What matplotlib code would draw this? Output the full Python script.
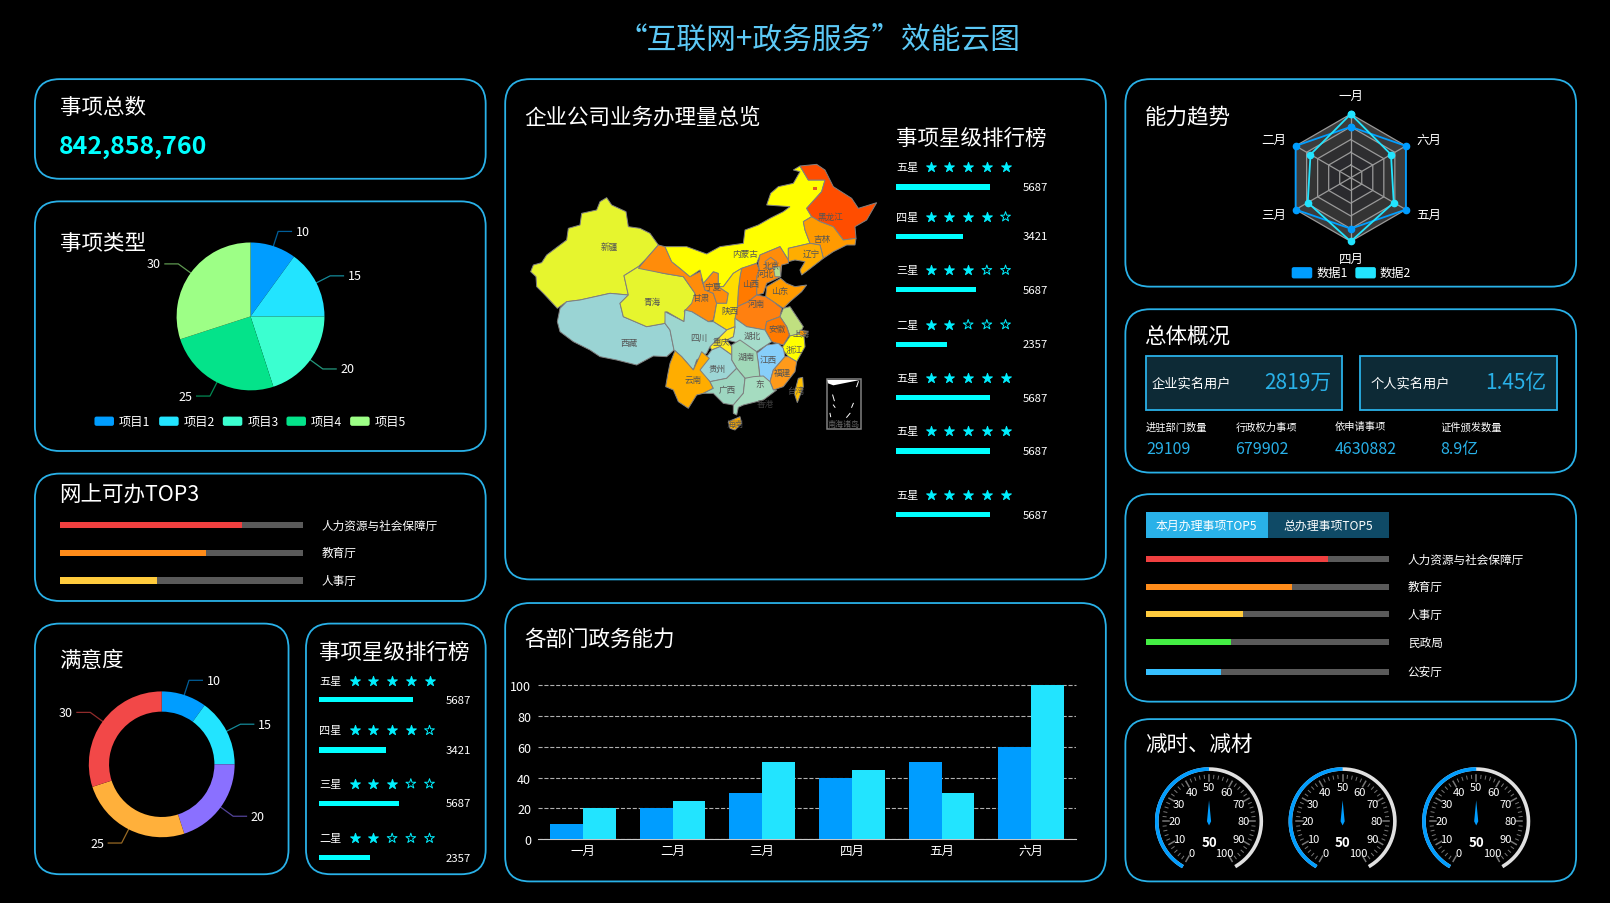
import numpy as np
import matplotlib
matplotlib.use('Agg')
import matplotlib.pyplot as plt
from matplotlib.patches import FancyBboxPatch, Rectangle, Polygon

plt.rcParams['font.family'] = ['Noto Sans CJK SC', 'DejaVu Sans']

# ---- data ----
total_count = '842,858,760'
pie_values = [10, 15, 20, 25, 30]
pie_names = ['项目1', '项目2', '项目3', '项目4', '项目5']
pie_colors = ['#009dff', '#22e4ff', '#3bffd0', '#04e38a', '#9dff86']
donut_values = [10, 15, 20, 25, 30]
donut_colors = ['#009dff', '#22e4ff', '#8a70ff', '#ffb03b', '#f24848']
top3_names = ['人力资源与社会保障厅', '教育厅', '人事厅']
top3_share = [75, 60, 40]
top3_colors = ['#f04040', '#ff8c1a', '#ffcb3d']
top5_names = ['人力资源与社会保障厅', '教育厅', '人事厅', '民政局', '公安厅']
top5_share = [75, 60, 40, 35, 31]
top5_colors = ['#f04040', '#ff8c1a', '#ffcb3d', '#44ee44', '#36c0ff']
rank_labels = ['五星', '四星', '三星', '二星', '五星', '五星', '五星']
rank_stars = [5, 4, 3, 2, 5, 5, 5]
rank_values = [5687, 3421, 5687, 2357, 5687, 5687, 5687]
rank_share = [70, 50, 60, 38, 70, 70, 70]
months = ['一月', '二月', '三月', '四月', '五月', '六月']
bar_series1 = [10, 20, 30, 40, 50, 60]
bar_series2 = [20, 25, 50, 45, 30, 100]
radar_series1 = [80, 100, 100, 80, 100, 100]
radar_series2 = [100, 73, 78, 100, 78, 73]
gauge_values = [50, 50, 50]
stat_names = ['进驻部门数量', '行政权力事项', '依申请事项', '证件颁发数量']
stat_values = ['29109', '679902', '4630882', '8.9亿']

province_names = ['新疆', '西藏', '青海', '甘肃', '宁夏', '内蒙古', '黑龙江', '吉林', '辽宁', '河北', '北京', '天津',
                  '山西', '山东', '河南', '陕西', '江苏', '上海', '安徽', '浙江', '江西', '福建', '湖北', '湖南',
                  '重庆', '四川', '贵州', '云南', '广西', '东', '海南', '台湾']
province_colors = ['#e6f52e', '#9ad4d4', '#e6f52e', '#ff8c0a', '#ff8c0a', '#ffff00', '#ff4d00', '#ff9a00', '#ffad00',
                   '#ff8c0a', '#ff8c0a', '#b5e090', '#ff7a00', '#ff9a00', '#ff8010', '#ffdd00', '#c0e080', '#ff9a00',
                   '#ff7a00', '#ffff00', '#87cefa', '#ff9a1a', '#a5dccb', '#a0d8b8', '#ffee22', '#9dd6cf', '#9dd6d6',
                   '#ffad00', '#9dd6c0', '#a5dcc0', '#ffad00', '#ffc000']
province_outlines = [
    [(92,425),(100,405),(125,398),(140,375),(200,330),(205,295),(240,285),(245,250),(290,240),(300,215),(320,203),(335,225),(378,245),(385,290),(420,295),(450,310),(475,345),(440,385),(415,410),(372,437),(385,495),(330,490),(240,510),(200,515),(172,535),(130,490),(110,470),(108,440)],
    [(172,575),(180,535),(200,515),(240,510),(330,490),(385,495),(360,520),(370,560),(440,590),(495,580),(510,600),(522,660),(500,680),(460,678),(410,705),(350,690),(300,680),(270,660),(220,635),(200,620),(180,605)],
    [(372,437),(415,410),(490,430),(550,440),(585,490),(580,530),(555,540),(552,575),(500,545),(495,580),(440,590),(370,560),(360,520),(385,495)],
    [(415,415),(440,385),(475,345),(495,350),(515,395),(540,415),(570,440),(610,420),(605,450),(615,480),(640,490),(650,520),(640,570),(625,575),(575,545),(552,545),(575,520),(585,490),(550,440),(490,430)],
    [(610,460),(640,425),(655,430),(655,470),(685,490),(680,520),(650,520),(640,490),(615,480)],
    [(495,350),(560,350),(620,372),(660,350),(730,340),(735,300),(775,285),(810,265),(850,245),(870,230),(800,225),(812,190),(835,170),(880,160),(900,125),(880,120),(900,108),(925,150),(975,150),(965,185),(920,235),(935,260),(910,275),(915,300),(930,340),(865,355),(865,390),(840,350),(780,375),(770,400),(725,415),(700,430),(670,470),(655,470),(655,430),(640,425),(610,460),(600,420),(570,440),(540,415),(515,395)],
    [(900,108),(950,103),(975,120),(1000,170),(1055,205),(1075,235),(1130,218),(1100,270),(1065,290),(1068,325),(1030,330),(1000,290),(960,275),(935,260),(920,235),(965,185),(975,150),(925,150)],
    [(910,275),(935,260),(960,275),(1000,290),(1030,330),(1068,325),(1065,345),(1040,345),(1000,365),(970,385),(960,345),(930,340),(915,300)],
    [(865,395),(865,355),(930,340),(960,345),(970,385),(925,420),(905,435),(900,420),(915,395),(885,390)],
    [(775,400),(780,375),(840,350),(865,390),(865,400),(845,405),(842,440),(800,460),(790,490),(770,495),(770,440),(778,420)],
    [(795,395),(812,382),(830,395),(822,415),(802,415)],
    [(820,412),(840,410),(842,440),(825,440)],
    [(720,440),(725,415),(770,400),(778,420),(770,440),(770,495),(745,515),(712,530),(715,480)],
    [(800,470),(842,445),(860,460),(885,470),(920,465),(905,485),(870,515),(850,535),(820,515),(797,500)],
    [(745,515),(770,495),(797,500),(820,515),(845,535),(840,560),(800,575),(795,600),(740,590),(705,565),(712,530)],
    [(655,470),(670,470),(700,430),(725,415),(720,440),(715,480),(712,530),(705,565),(705,590),(680,600),(640,575),(650,520),(680,520),(685,490)],
    [(850,535),(870,530),(890,560),(910,590),(900,610),(895,612),(870,618),(860,590),(840,560)],
    [(900,600),(925,605),(912,620),(897,615)],
    [(800,575),(840,560),(860,590),(868,615),(850,645),(815,635),(795,600)],
    [(862,630),(870,618),(895,612),(912,620),(915,650),(890,695),(865,680),(845,655)],
    [(770,670),(800,645),(835,640),(850,655),(855,680),(820,720),(810,755),(780,745),(775,700)],
    [(855,680),(865,680),(890,695),(885,725),(850,770),(820,780),(810,755),(820,720)],
    [(705,565),(740,590),(795,600),(815,635),(800,645),(770,665),(720,640),(700,635),(680,630),(700,620),(705,590)],
    [(695,645),(720,630),(770,665),(775,700),(780,745),(735,745),(710,715),(695,690)],
    [(630,650),(680,600),(705,590),(700,620),(680,630),(695,650),(695,675),(660,650),(635,660)],
    [(495,545),(552,575),(555,540),(575,545),(625,575),(640,575),(680,600),(630,650),(620,670),(590,690),(580,720),(545,680),(522,660),(510,600),(495,580)],
    [(600,720),(620,680),(635,660),(660,650),(695,675),(695,690),(710,715),(680,745),(630,755),(600,730)],
    [(497,770),(503,735),(510,700),(525,662),(545,680),(580,720),(605,665),(628,685),(600,720),(630,755),(640,775),(610,790),(590,795),(565,835),(535,815),(520,780)],
    [(630,755),(680,745),(710,715),(735,745),(730,790),(700,825),(670,820),(640,790),(610,790),(640,775)],
    [(735,745),(760,740),(790,738),(810,755),(820,780),(830,780),(790,810),(730,825),(715,832),(710,855),(700,850),(700,825),(730,790)],
    [(685,875),(720,860),(725,880),(705,900),(690,895)],
    [(895,745),(908,742),(910,770),(892,818),(883,790)],
]
province_label_pos = [(328,348),(388,637),(457,513),(605,502),(640,470),(735,370),(990,258),(967,325),(933,370),(797,432),(815,405),
                      (0,0),(752,460),(838,481),(770,520),(690,541),(0,0),(903,610),(830,595),(882,660),(806,690),(848,727),(758,615),(740,678),
                      (665,634),(598,622),(650,714),(580,747),(682,780),(778,760),(705,881),(888,783)]
island_dashes = [((998,795),(1003,812)), ((1075,755),(1070,770)), ((1000,825),(1005,832)), ((1060,820),(1055,832)),
                 ((1050,850),(1040,862)), ((990,850),(992,860))]

BLUE = '#29b1e8'
fig = plt.figure(figsize=(16.1, 9.04), dpi=100, facecolor='black')
ax = fig.add_axes([0, 0, 1, 1], facecolor='black')
ax.set_xlim(0, 1568)
ax.set_ylim(879, -1)
ax.axis('off')


def T(x, y, s, size=8, color='white', ha='left', va='center', **kw):
    return ax.text(x, y, s, fontsize=size, color=color, ha=ha, va=va, **kw)


def title(x, y, s):
    return T(x, y + 0.5, s, 15.5)


def sub_axes(x0, y0, x1, y1, **kw):
    return fig.add_axes([x0 / 1568, 1 - (y1 + 1) / 880, (x1 - x0) / 1568, (y1 - y0) / 880], **kw)


def panel(x0, y0, x1, y1, r=24):
    ax.add_patch(FancyBboxPatch((x0, y0), x1 - x0, y1 - y0, boxstyle=f'round,pad=0,rounding_size={r}',
                                fc='black', ec=BLUE, lw=1.3, zorder=1))


for p in [(34, 77, 473, 174), (34, 196, 473, 439), (34, 461, 473, 585), (34, 607, 281, 851), (298, 607, 473, 851),
          (492, 77, 1077, 564), (492, 587, 1077, 858), (1096, 77, 1535, 279), (1096, 301, 1535, 460),
          (1096, 481, 1535, 683), (1096, 700, 1535, 858)]:
    panel(*p)

T(798, 37.5, '“互联网+政务服务”效能云图', 21.4, '#5cc8f5', ha='center')
title(58, 104, '事项总数')
T(57, 142.5, total_count, 18, '#00ffff', fontweight='bold')
title(58, 236.5, '事项类型')
title(58, 481, '网上可办TOP3')
title(58, 642, '满意度')
title(311, 634, '事项星级排行榜')
title(511, 113, '企业公司业务办理量总览')
title(873, 134, '事项星级排行榜')
title(511, 621, '各部门政务能力')
title(1115, 113, '能力趋势')
title(1114.5, 327, '总体概况')
title(1115, 725, '减时、减材')


# pies
def ring_chart(values, colors, cx, cy, R, inner=None):
    pax = sub_axes(cx - R, cy - R, cx + R, cy + R)
    props = dict(width=1 - inner / R) if inner else None
    pax.pie(values, colors=colors, startangle=90, counterclock=False, radius=1, wedgeprops=props)
    pax.set_xlim(-1, 1)
    pax.set_ylim(-1, 1)
    total = sum(values)
    start = 0
    for v, c in zip(values, colors):
        a = np.deg2rad(start + 360 * v / total / 2)
        start += 360 * v / total
        s, co = np.sin(a), np.cos(a)
        x1, y1 = cx + R * s, cy - R * co
        x2, y2 = cx + (R + 15) * s, cy - (R + 15) * co
        d = 13 if s >= 0 else -13
        ax.plot([x1, x2, x2 + d], [y1, y2, y2], color=c, lw=0.9, alpha=0.6, zorder=3)
        T(x2 + d + (4 if s >= 0 else -4), y2, str(v), 9, ha='left' if s >= 0 else 'right')


ring_chart(pie_values, pie_colors, 244, 308, 72)
ring_chart(donut_values, donut_colors, 157.5, 744, 71, inner=51.3)

# pie legend
for name, c, x in zip(pie_names, pie_colors, [92, 155, 217, 279, 341]):
    ax.add_patch(FancyBboxPatch((x, 405.5), 19, 9, boxstyle='round,pad=0,rounding_size=2', fc=c, ec='none', zorder=3))
    T(x + 24, 410, name, 8.8)


# progress bars
def progress(names, shares, colors, ys, x0, w, lx):
    for n, s, c, y in zip(names, shares, colors, ys):
        ax.add_patch(Rectangle((x0, y - 3), w, 6, fc='#5a5a5a', ec='none', zorder=3))
        ax.add_patch(Rectangle((x0, y - 3), w * s / 100, 6, fc=c, ec='none', zorder=4))
        T(lx, y, n, 8.4)


progress(top3_names, top3_share, top3_colors, [511, 538, 565], 58, 237, 313)
progress(top5_names, top5_share, top5_colors, [544, 571, 598, 625, 654], 1116, 237, 1371)

ax.add_patch(Rectangle((1116, 498), 119, 26, fc='#29b1e8', ec='none', zorder=3))
ax.add_patch(Rectangle((1235, 498), 118, 26, fc='#0f4a66', ec='none', zorder=3))
T(1175, 511, '本月办理事项TOP5', 8.6, ha='center', zorder=5)
T(1294, 511, '总办理事项TOP5', 8.6, ha='center', zorder=5)


# star ranks
def rank(x0, star_x, val_x, label_ys, bar_ys, n):
    for i in range(n):
        T(x0, label_ys[i], rank_labels[i], 8)
        for k in range(5):
            filled = k < rank_stars[i]
            ax.scatter([star_x + k * 18.2], [label_ys[i]], marker='*', s=55,
                       facecolors='#00f0ff' if filled else 'none',
                       edgecolors='#00f0ff', linewidths=0.7, zorder=4)
        ax.add_patch(Rectangle((x0, bar_ys[i] - 2.5), rank_share[i] * 1.3, 5, fc='#00ffff', ec='none', zorder=4))
        T(val_x, bar_ys[i], str(rank_values[i]), 8.2, va='center')


rank(873, 906.5, 996, [163, 211, 263, 316, 368, 420, 482], [182, 230, 282, 335, 387, 439, 501], 7)
rank(311, 345.5, 434, [663, 711, 763, 816], [681, 730, 782, 835], 4)

# map
map_ax = fig.add_axes([500 / 1610, 1 - 451 / 904, 400 / 1610, 320 / 904], facecolor='none')
map_ax.set_xlim(0, 1200)
map_ax.set_ylim(960, 0)
map_ax.axis('off')
for outline, color in zip(province_outlines, province_colors):
    map_ax.add_patch(Polygon(outline, closed=True, fc=color, ec='#808080', lw=0.7))
map_ax.add_patch(Rectangle((940, 172), 12, 7, fc='#e06020', ec='none'))
for name, pos in zip(province_names, province_label_pos):
    if pos != (0, 0):
        map_ax.text(pos[0], pos[1], name, fontsize=6.2, color='#555555', ha='center', va='center')
map_ax.text(795, 820, '香港', fontsize=6.2, color='#555555', ha='center', va='center', alpha=0.7)
map_ax.add_patch(Rectangle((980, 748), 102, 149, fc='none', ec='#808080', lw=1.1))
map_ax.add_patch(Polygon([(982, 750), (1080, 750), (1040, 758), (1000, 766), (984, 760)], fc='white', ec='none'))
for d in island_dashes:
    map_ax.plot([d[0][0], d[1][0]], [d[0][1], d[1][1]], color='white', lw=0.7)
map_ax.text(1031, 881, '南海诸岛', fontsize=5.8, color='#666666', ha='center', va='center')

# grouped bars
bar_ax = sub_axes(524, 667, 1048, 817, facecolor='none')
x = np.arange(len(months))
bw = 0.367
bar_ax.set_axisbelow(True)
bar_ax.bar(x - bw / 2, bar_series1, bw, color='#009dff', zorder=3)
bar_ax.bar(x + bw / 2, bar_series2, bw, color='#22e4ff', zorder=3)
bar_ax.set_xlim(-0.5, 5.5)
bar_ax.set_ylim(0, 100)
bar_ax.set_xticks(x, months)
bar_ax.set_yticks(range(0, 101, 20))
bar_ax.tick_params(length=0, colors='white', labelsize=9, pad=5)
bar_ax.tick_params(axis='x', pad=3)
bar_ax.grid(axis='y', color='#b0b0b0', ls='--', lw=0.8)
bar_ax.yaxis.get_gridlines()[-1].set_clip_on(False)
for sp in ['top', 'left', 'right']:
    bar_ax.spines[sp].set_visible(False)
bar_ax.spines['bottom'].set_color('#c8c8c8')

# radar
radar_ax = sub_axes(1315.5 - 62, 173 - 62, 1315.5 + 62, 173 + 62, projection='polar', facecolor='none')
theta = np.deg2rad(np.arange(6) * 60.0)
th_closed = np.append(theta, theta[0])
radar_ax.set_theta_zero_location('N')
radar_ax.set_ylim(0, 100)
radar_ax.axis('off')
for level, shade in zip([100, 80, 60, 40, 20], ['#3c3c3c', '#343434', '#2e2e30', '#2a2a2e', '#262628']):
    radar_ax.fill(th_closed, [level] * 7, color=shade, zorder=1, lw=0)
    radar_ax.plot(th_closed, [level] * 7, color='#9a9a9a', lw=0.9, zorder=2)
for t in theta:
    radar_ax.plot([t, t], [0, 100], color='#9a9a9a', lw=0.9, zorder=2)
radar_ax.plot(th_closed, radar_series1 + radar_series1[:1], color='#009dff', lw=1.3, marker='o', ms=4.5,
              zorder=4, clip_on=False)
radar_ax.plot(th_closed, radar_series2 + radar_series2[:1], color='#22e4ff', lw=1.3, marker='o', ms=4.5,
              zorder=5, clip_on=False)
for m, (lx, ly, ha) in zip(months, [(1316, 93, 'center'), (1253, 136, 'right'), (1253, 209, 'right'),
                                    (1316, 252, 'center'), (1379, 209, 'left'), (1379, 136, 'left')]):
    T(lx, ly, m, 9, ha=ha)
for name, c, xx in zip(['数据1', '数据2'], ['#009dff', '#22e4ff'], [1258, 1320]):
    ax.add_patch(FancyBboxPatch((xx, 260), 20, 11, boxstyle='round,pad=0,rounding_size=2', fc=c, ec='none', zorder=3))
    T(xx + 24, 265, name, 8.8)

# overview
for x0, name, val, nx in [(1116, '企业实名用户', '2819万', 1122), (1325, '个人实名用户', '1.45亿', 1335)]:
    ax.add_patch(Rectangle((x0, 347), 191, 52, fc='#0d2a36', ec=BLUE, lw=1.3, zorder=3))
    T(nx, 373, name, 9.5, zorder=5)
    T(x0 + 181, 372, val, 15, '#29b1e8', ha='right', zorder=5)
for n, v, xx in zip(stat_names, stat_values, [1116, 1203, 1300, 1403]):
    T(xx, 415, n, 7.4)
    T(xx, 437, v, 11.5, '#29b1e8')


# gauges
def gauge(cx, cy, value, R=52.6):
    ang = lambda v: np.deg2rad(240 - 300 * np.asarray(v, dtype=float) / 100)
    v_all = np.linspace(0, 100, 200)
    v_lo = np.linspace(0, value, 100)
    ax.plot(cx + (R - 1.7) * np.cos(ang(v_all)), cy - (R - 1.7) * np.sin(ang(v_all)), color='#e0e0e0', lw=2.6,
            solid_capstyle='butt', zorder=3)
    ax.plot(cx + (R - 1.7) * np.cos(ang(v_lo)), cy - (R - 1.7) * np.sin(ang(v_lo)), color='#009dff', lw=2.6,
            solid_capstyle='butt', zorder=4)
    for t in np.arange(0, 101, 2):
        major = t % 10 == 0
        a = ang(t)
        r1, r2 = (39, 45) if major else (42, 45)
        ax.plot([cx + r1 * np.cos(a), cx + r2 * np.cos(a)], [cy - r1 * np.sin(a), cy - r2 * np.sin(a)],
                color='#777777', lw=1.1 if major else 0.7, zorder=3)
    for t in range(0, 101, 10):
        a = ang(t)
        dx = -1.5 if t == 100 else 0
        dy = 1.5 if t in (0, 100) else 0
        T(cx + 33.5 * np.cos(a) + dx, cy - 33.5 * np.sin(a) + dy, str(t), 8, ha='center', zorder=5)
    a = ang(value)
    ux, uy = np.cos(a), -np.sin(a)
    px, py = -uy, ux
    ax.add_patch(Polygon([(cx + 20.5 * ux, cy + 20.5 * uy), (cx + 2 * px, cy + 2 * py),
                          (cx - 4 * ux, cy - 4 * uy), (cx - 2 * px, cy - 2 * py)],
                         fc='#009dff', ec='none', zorder=5))
    T(cx, cy + 20, str(value), 9.5, ha='center', fontweight='bold', zorder=6)


for cx, val in zip([1177.5, 1307.6, 1437.7], gauge_values):
    gauge(cx, 799.5, val)

fig.savefig('out.png', dpi=100, facecolor='black')
